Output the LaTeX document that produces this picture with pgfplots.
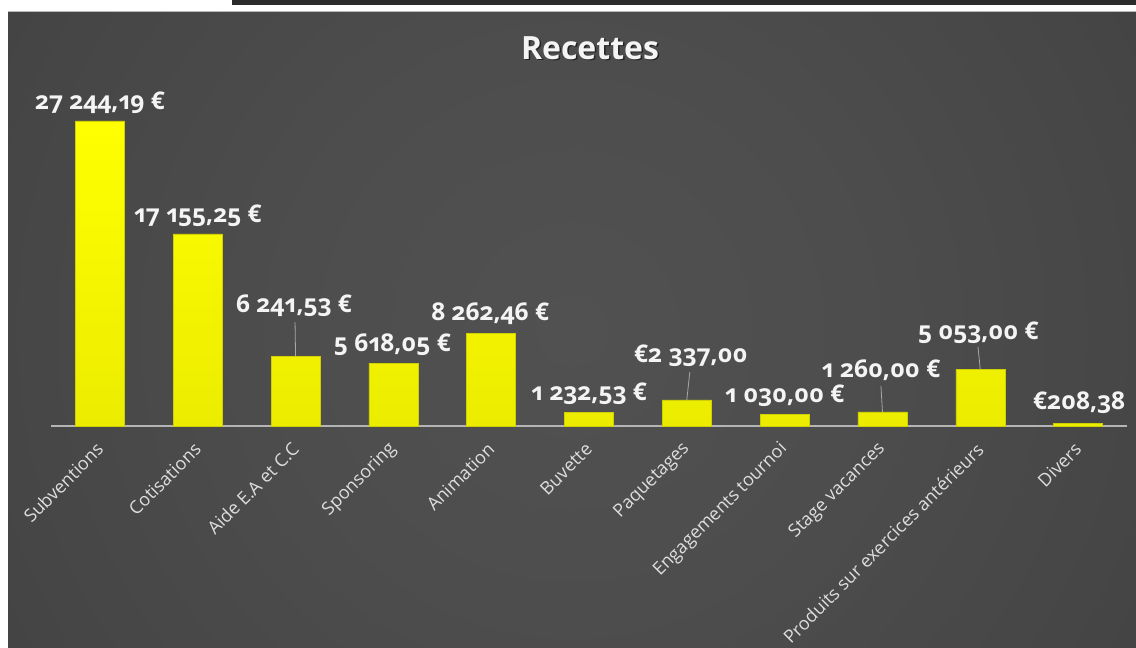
\documentclass[border=0pt]{standalone}
\usepackage{pgfplots}
\pgfplotsset{compat=1.18}
\usepackage{fontspec}
\setmainfont{Open Sans}[Numbers=OldStyle]
\definecolor{strip}{HTML}{2B2B2B}
\definecolor{axisgray}{HTML}{B4B4B4}
\definecolor{bartop}{HTML}{FFFF00}
\definecolor{barbot}{HTML}{ECEC00}
\definecolor{bardraw}{HTML}{D0D000}
\definecolor{labwhite}{HTML}{F4F4F4}
\definecolor{ticklab}{HTML}{DEDEDE}
\definecolor{leader}{HTML}{A8A8A8}
\definecolor{c0}{HTML}{515151}
\definecolor{c1}{HTML}{4D4D4D}
\definecolor{c2}{HTML}{464646}
\definecolor{c3}{HTML}{3A3A3A}
\definecolor{c4}{HTML}{323232}
\definecolor{c5}{HTML}{2A2A2A}
\pgfdeclareradialshading{bgshade}{\pgfpoint{0bp}{0bp}}{color(0bp)=(c0); color(12bp)=(c1); color(24bp)=(c2); color(40bp)=(c3); color(48bp)=(c4); color(54bp)=(c5); color(72bp)=(c5)}
\newcommand{\lbl}[5]{\node[text=labwhite, font=\fontsize{24.5}{28}\selectfont\bfseries, inner sep=0pt, xshift=#3pt, yshift=#4pt] at (axis cs:#1,#2) {#5};}
\begin{document}
\begin{tikzpicture}[x=1pt,y=1pt]
\useasboundingbox (0,0) rectangle (1136,648);
\fill[white] (0,0) rectangle (1136,648);
\fill[strip] (232,643) rectangle (1136,648);
\begin{scope}
\clip (8,0) rectangle (1136,636);
\shade[shading=bgshade] (-28,-282) rectangle (1172,918);
\end{scope}
\draw[gray!55, line width=1pt] (8,636) -- (1136,636);
\node[text=black, opacity=0.55, font=\fontsize{32}{38}\selectfont\bfseries] at (591.5,598.5) {Recettes};
\node[text=labwhite, font=\fontsize{32}{38}\selectfont\bfseries] at (590,600) {Recettes};
\begin{axis}[
  at={(51pt,222pt)}, anchor=south west, scale only axis,
  width=1076pt, height=336pt,
  xmin=-0.5, xmax=10.5, ymin=0, ymax=30000,
  ybar, bar width=49pt,
  axis x line*=bottom, axis y line=none,
  x axis line style={draw=axisgray, line width=1.5pt, -},
  xtick={0,...,10}, ytick=\empty, major tick length=0pt,
  xticklabels={Subventions,Cotisations,Aide E.A et C.C,Sponsoring,Animation,Buvette,Paquetages,Engagements tournoi,Stage vacances,Produits sur exercices antérieurs,Divers},
  xticklabel style={xshift=0pt, yshift=-20pt, rotate=45, anchor=east, text=ticklab, font=\fontsize{18}{22}\selectfont, inner sep=0pt},
  clip=false,
]
\addplot[draw=bardraw, top color=bartop, bottom color=barbot] coordinates {
(0,27244.19) (1,17155.25) (2,6241.53) (3,5618.05) (4,8262.46) (5,1232.53) (6,2337.00) (7,1030.00) (8,1260.00) (9,5053.00) (10,208.38)};
\draw[leader, line width=0.8pt] (axis cs:2,6241.53) -- ++(-0.5pt,34pt);
\draw[leader, line width=0.8pt] (axis cs:6,2337.00) -- ++(3pt,28pt);
\draw[leader, line width=0.8pt] (axis cs:8,1260.00) -- ++(-1.5pt,26pt);
\draw[leader, line width=0.8pt] (axis cs:9,5053.00) -- ++(-2.3pt,22.7pt);
\lbl{0}{27244.19}{0}{18}{27~244,19~€}
\lbl{1}{17155.25}{0}{18}{17~155,25~€}
\lbl{2}{6241.53}{-1.5}{50}{6~241,53~€}
\lbl{3}{5618.05}{-1}{18}{5~618,05~€}
\lbl{4}{8262.46}{-1}{19.5}{8~262,46~€}
\lbl{5}{1232.53}{0}{18}{1~232,53~€}
\lbl{6}{2337.00}{4}{44}{€2~337,00}
\lbl{7}{1030.00}{0}{18.5}{1~030,00~€}
\lbl{8}{1260.00}{-1.5}{42}{1~260,00~€}
\lbl{9}{5053.00}{-2}{36.5}{5~053,00~€}
\lbl{10}{208.38}{1}{20.7}{€208,38}
\end{axis}
\end{tikzpicture}
\end{document}
